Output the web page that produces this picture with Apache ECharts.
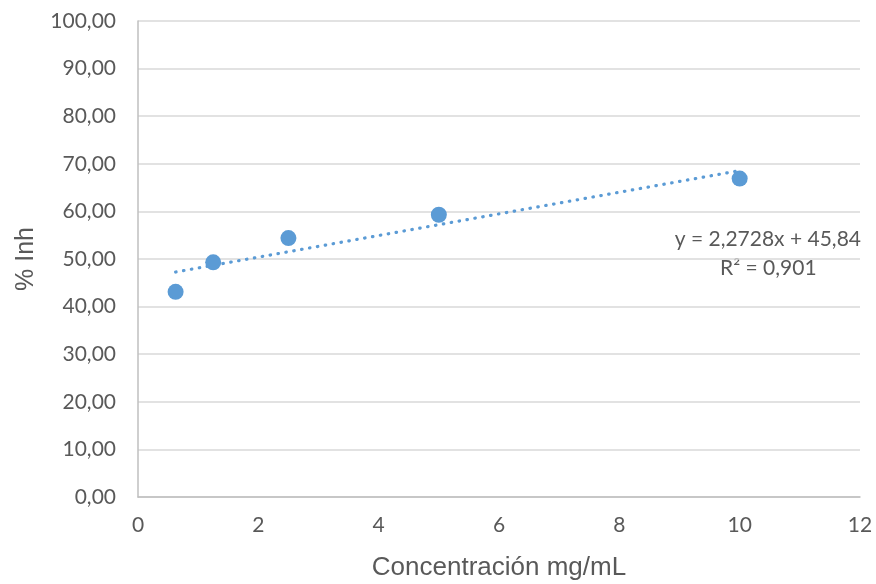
<!DOCTYPE html>
<html>
<head>
<meta charset="utf-8">
<script src="https://cdn.jsdelivr.net/npm/echarts@6/dist/echarts.min.js"></script>
<style>html,body{margin:0;padding:0;background:#fff}#c{width:876px;height:584px}</style>
</head>
<body>
<div id="c"></div>
<script>
var concentrations = [0.625, 1.25, 2.5, 5, 10];
var inhibition = [43.1, 49.3, 54.4, 59.3, 66.9];
var trendSlope = 2.2728;
var trendIntercept = 45.84;
var trendLabel = ['y = 2,2728x + 45,84', 'R\u00b2 = 0,901'];
var xName = 'Concentración mg/mL';
var yName = '% Inh';

var trendX = [concentrations[0], concentrations[concentrations.length - 1]];
var trendData = trendX.map(function (x) { return [x, trendSlope * x + trendIntercept]; });
var points = concentrations.map(function (x, i) { return [x, inhibition[i]]; });

var chart = echarts.init(document.getElementById('c'), null, {renderer: 'canvas'});
var tickFont = {color: '#595959', fontFamily: 'Lato', fontSize: 21};
chart.setOption({
  animation: false,
  grid: {left: 138, right: 16, top: 21, bottom: 87, containLabel: false, outerBoundsMode: 'none'},
  xAxis: {
    type: 'value', min: 0, max: 12, interval: 2,
    name: xName, nameLocation: 'middle', nameGap: 58,
    nameTextStyle: {color: '#595959', fontFamily: 'Liberation Sans', fontSize: 26},
    axisLine: {show: true, lineStyle: {color: '#bfbfbf', width: 1.5}},
    axisTick: {show: false},
    splitLine: {show: false},
    axisLabel: Object.assign({margin: 18}, tickFont)
  },
  yAxis: {
    type: 'value', min: 0, max: 100, interval: 10,
    name: yName, nameLocation: 'middle', nameGap: 99, nameRotate: 90,
    nameTextStyle: {color: '#595959', fontFamily: 'Liberation Sans', fontSize: 25},
    axisLine: {show: true, lineStyle: {color: '#bfbfbf', width: 1.5}},
    axisTick: {show: false},
    splitLine: {show: true, lineStyle: {color: '#d9d9d9', width: 1.5}},
    axisLabel: Object.assign({margin: 22, formatter: function (v) { return v.toFixed(2).replace('.', ','); }}, tickFont)
  },
  series: [
    {
      type: 'line', data: trendData, symbol: 'none', silent: true, z: 1,
      lineStyle: {color: '#5b9bd5', width: 3.2, type: [0.5, 7.5], cap: 'round'}
    },
    {
      type: 'scatter', data: points, symbolSize: 16, z: 2,
      itemStyle: {color: '#5b9bd5', opacity: 1}
    }
  ],
  graphic: [
    {type: 'text', right: 15, top: 229, style: {text: trendLabel[0], fill: '#595959', font: '21px Lato'}},
    {type: 'text', left: 720, top: 258, style: {text: trendLabel[1], fill: '#595959', font: '21px Lato'}}
  ]
});
</script>
</body>
</html>
